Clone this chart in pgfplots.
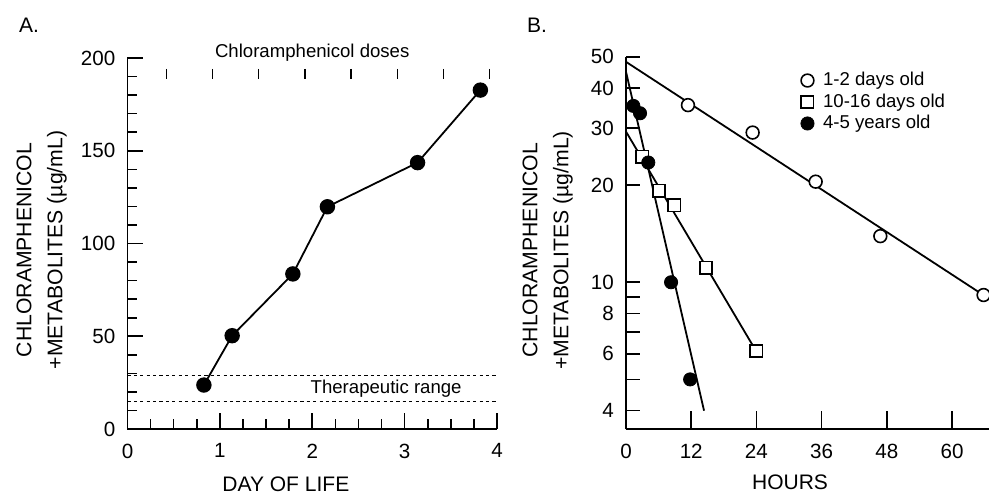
\documentclass[border=0pt]{standalone}
\usepackage{fontspec}
\setmainfont{Liberation Sans}
\usepackage{pgfplots}
\pgfplotsset{compat=1.18}

\pgfplotsset{
  panel/.style={
    scale only axis,
    axis lines*=left,
    tick align=inside,
    axis line style={line width=0.8pt},
    every tick/.style={line width=0.8pt, black},
    major tick length=8pt,
    minor tick length=5pt,
    tick label style={font=\fontsize{10.3}{12}\selectfont},
    /pgf/number format/assume math mode=true,
    xticklabel style={yshift=-3.8pt},
    yticklabel style={xshift=-2.6pt},
    ylabel style={align=center, font=\fontsize{10.6}{12.7}\selectfont, anchor=center},
    xlabel style={font=\fontsize{10.5}{12}\selectfont, anchor=base},
    clip=false,
  }
}

\begin{document}
\begin{tikzpicture}
\useasboundingbox (0,0) rectangle (494.5pt,247pt);

\node[anchor=base west, font=\fontsize{10.5}{12}\selectfont] at (6pt,230.5pt) {A.};
\node[anchor=base west, font=\fontsize{10.5}{12}\selectfont] at (260pt,230.5pt) {B.};

% panel A
\begin{axis}[panel,
  at={(63.75pt,32.5pt)}, anchor=south west,
  width=184.75pt, height=185.5pt,
  xmin=0, xmax=4, ymin=0, ymax=200,
  xtick={0,1,2,3,4}, minor x tick num=3,
  ytick={0,50,100,150,200}, minor y tick num=4,
  xlabel={DAY OF LIFE},
  xlabel style={at={(axis description cs:0.4286,0)}, yshift=-31.3pt},
  ylabel={CHLORAMPHENICOL\\[2.8pt]+METABOLITES (µg/mL)},
  ylabel style={at={(axis description cs:-0.232,0.4825)}},
]
\addplot[black, line width=0.6pt, dash pattern=on 1.6pt off 1.6pt] coordinates {(0,29) (4,29)};
\addplot[black, line width=0.6pt, dash pattern=on 1.6pt off 1.6pt] coordinates {(0,15) (4,15)};
\addplot[only marks, mark=|, mark size=2.6pt, mark options={line width=0.7pt}]
  coordinates {(0.42,191.3) (0.92,191.3) (1.42,191.3) (1.92,191.3) (2.42,191.3) (2.92,191.3) (3.42,191.3) (3.92,191.3)};
\addplot[black, line width=0.9pt, mark=*, mark size=3.4pt]
  coordinates {(0.827,23.7) (1.133,50.3) (1.79,83.6) (2.164,119.8) (3.14,143.6) (3.82,182.7)};
\node[font=\fontsize{9.3}{11}\selectfont] at (axis cs:2.0,203) {Chloramphenicol doses};
\node[font=\fontsize{9.3}{11}\selectfont] at (axis cs:2.8,21.9) {Therapeutic range};
\end{axis}

% panel B
\begin{axis}[panel,
  at={(313pt,32.5pt)}, anchor=south west,
  width=181.5pt, height=186.15pt,
  ymode=log,
  xmin=0, xmax=66.8, ymin=3.51, ymax=50,
  xtick={0,12,24,36,48,60},
  ytick={4,5,6,7,8,9,10,20,30,40,50},
  yticklabels={4,,6,,8,,10,20,30,40,50},
  yminorticks=false,
  major tick length=7pt,
  xtick style={/pgfplots/major tick length=9pt},
  xlabel={HOURS},
  xlabel style={at={(axis description cs:0.452,0)}, yshift=-30.2pt},
  ylabel={CHLORAMPHENICOL\\[2.8pt]+METABOLITES (µg/mL)},
  ylabel style={at={(axis description cs:-0.216,0.48)}},
  legend style={draw=none, fill=none, at={(axis cs:31,47.5)}, anchor=north west,
    font=\fontsize{9.3}{11}\selectfont, row sep=-1.5pt, column sep=2.5pt},
  legend cell align=left,
]
\addplot[black, line width=0.9pt, forget plot] coordinates {(0,48.2) (66.8,8.89)};
\addplot[black, line width=0.9pt, forget plot] coordinates {(0,29.3) (23.94,6.12)};
\addplot[black, line width=0.9pt, forget plot] coordinates {(0,44.9) (14.36,4.0)};
\addplot[only marks, mark=*, mark size=3.2pt, mark options={fill=white, draw=black, line width=0.8pt}]
  coordinates {(11.4,35.4) (23.3,29.1) (34.9,20.5) (46.8,13.9) (65.8,9.13)};
\addlegendentry{1-2 days old}
\addplot[only marks, mark=square*, mark size=3.1pt, mark options={fill=white, draw=black, line width=0.8pt}]
  coordinates {(3.0,24.5) (6.08,19.2) (8.9,17.3) (14.73,11.1) (23.94,6.12)};
\addlegendentry{10-16 days old}
\addplot[only marks, mark=*, mark size=3.3pt, mark options={fill=black, draw=black}]
  coordinates {(1.35,35.2) (2.58,33.4) (4.1,23.5) (8.29,10.0) (11.8,5.0)};
\addlegendentry{4-5 years old}
\end{axis}
\end{tikzpicture}
\end{document}
